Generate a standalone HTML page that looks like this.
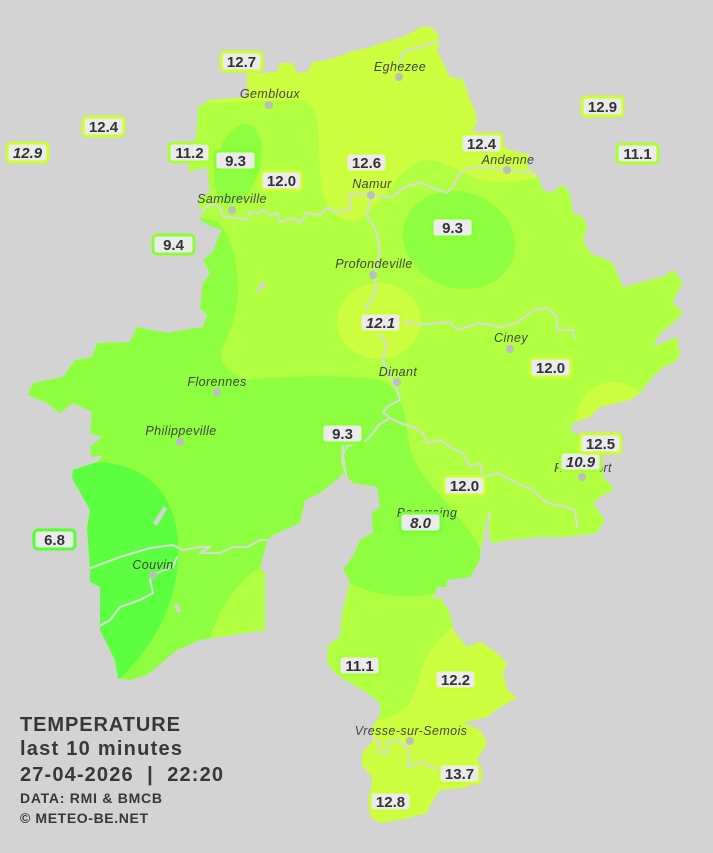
<!DOCTYPE html>
<html><head><meta charset="utf-8"><style>
html,body{margin:0;padding:0;background:#d3d3d3;}
svg{display:block;}
.c{font-family:"Liberation Sans",sans-serif;font-style:italic;font-size:12.5px;fill:#444;text-anchor:middle;letter-spacing:0.4px;}
.v{font-family:"Liberation Sans",sans-serif;font-weight:bold;font-size:15px;fill:#333;text-anchor:middle;}
.vi{font-style:italic;}
.t{font-family:"Liberation Sans",sans-serif;font-weight:bold;fill:#383838;}
</style></head><body>
<svg width="713" height="853" viewBox="0 0 713 853" xmlns="http://www.w3.org/2000/svg">
<defs>
<clipPath id="prov"><polygon id="outl" points="198,107 210,100 237,98 247,97 247,73 263,73 277,72 280,63 293,63 297,73 307,72 313,62 327,60 337,57 350,52 367,48 383,43 403,37 413,32 420,27 430,27 437,32 440,43 437,50 443,63 450,77 463,80 467,90 470,100 475,110 477,123 472,130 490,140 510,150 530,155 527,167 537,175 543,190 550,193 563,185 570,193 573,213 583,217 587,227 583,240 590,253 607,260 613,263 617,273 623,287 650,280 663,277 673,270 683,283 677,293 673,303 683,313 673,323 660,333 653,347 677,337 680,357 673,363 663,367 650,380 640,393 630,400 617,403 600,407 590,417 573,423 570,430 582,437 590,450 603,467 603,477 613,487 613,490 600,497 593,503 600,513 605,520 597,533 567,537 540,537 510,540 493,543 490,540 487,513 483,540 480,553 480,560 470,577 447,580 447,587 437,587 433,600 440,597 450,613 453,630 467,647 480,642 493,650 507,663 503,673 507,690 517,698 500,707 487,717 463,723 480,730 487,743 477,760 483,773 467,787 440,790 433,800 427,813 400,820 380,823 370,817 372,777 362,765 362,753 372,742 372,727 380,715 380,703 367,693 337,675 327,663 328,645 340,637 342,613 347,593 350,580 343,570 355,553 360,540 373,533 372,513 380,507 377,487 353,483 343,473 340,477 320,493 305,500 300,523 273,535 268,540 260,567 265,573 265,630 200,640 193,643 177,650 147,675 130,680 118,678 115,660 100,630 100,587 90,582 90,570 87,528 90,510 72,478 73,470 97,462 103,455 92,457 90,447 102,437 90,433 92,412 73,403 60,413 47,403 28,395 33,383 63,377 75,360 92,357 97,343 130,342 137,327 167,333 203,327 207,315 200,308 203,283 210,273 203,260 213,252 218,238 222,230 213,227 200,220 203,213 198,203 200,198 210,193 207,167 188,172 197,130"/></clipPath>
</defs>
<rect width="713" height="853" fill="#d3d3d3"/>
<g clip-path="url(#prov)">
  <rect width="713" height="853" fill="#b0ff40"/>
  <!-- north yellow -->
  <path d="M180,20 L600,20 L600,176 L545,175 C525,182 500,185 480,180 C460,172 445,160 423,160 C405,165 390,190 377,203 C368,212 360,222 350,221 C330,218 323,200 320,175 L318,123 C316,108 308,100 295,100 L180,104 Z" fill="#ccff40"/>
  <!-- NW green ellipse -->
  <ellipse cx="238" cy="164" rx="22" ry="41" transform="rotate(15 238 164)" fill="#8eff40"/>
  <!-- east green ellipse -->
  <ellipse cx="459" cy="240" rx="57" ry="48" transform="rotate(20 459 240)" fill="#8eff40"/>
  <!-- yellow blob 12.1 -->
  <ellipse cx="379" cy="321" rx="42" ry="38" fill="#ccff40"/>
  <!-- east yellow blob -->
  <circle cx="614" cy="420" r="38" fill="#ccff40"/>
  <!-- big west/south green -->
  <path d="M180,212 L218,222 C230,235 237,255 238,290 C238,315 228,335 221,352 C220,362 226,372 247,380 C280,376 340,374 380,380 C395,384 403,400 407,430 C409,450 414,466 433,487 C450,507 470,528 482,552 L490,575 C470,588 445,592 417,596 C395,597 370,594 350,583 L330,560 L300,720 L0,720 L0,212 Z" fill="#8eff40"/>
  <!-- SW lighter region -->
  <path d="M195,720 L210,640 C215,618 227,596 247,577 C255,570 262,565 280,560 L300,560 L300,720 Z" fill="#b0ff40"/>
  <!-- deep green Couvin -->
  <path d="M60,466 C150,448 182,500 178,560 C175,610 150,650 115,684 L40,700 L40,466 Z" fill="#5cff40"/>
  <!-- south yellow -->
  <path d="M470,610 C455,625 435,640 425,660 C418,680 415,700 405,708 C395,716 385,718 368,724 L350,840 L560,840 L560,600 Z" fill="#ccff40"/>
  <!-- lakes -->
  <g fill="#d3d3d3">
    <path d="M164,506 L167,509 L157,526 L153,523 Z"/>
    <path d="M174,604 L178,603 L181,612 L177,613 Z"/>
    <circle cx="263" cy="285" r="3"/>
    <path d="M257,288 L262,286 L259,292 L256,292 Z"/>
  </g>
  <!-- rivers -->
  <g fill="none" stroke="#dadada" stroke-width="2" stroke-linejoin="round" stroke-linecap="round">
    <polyline points="548,176 525,172 507,170 483,167 470,168 460,173 453,187 447,193 430,187 420,182 403,188 393,197 371,196"/>
    <polyline points="371,196 350,193 350,210 337,212 327,208 320,215 307,213 300,223 293,218 280,222 277,213 270,215 263,210 258,213 250,212 247,220 237,218 230,217 223,217 220,207 212,204 205,208 200,212"/>
    <polyline points="371,196 367,215 376,230 380,252 375,272 376,290 372,300 366,306 375,330 387,343 383,360 390,377 397,390 400,400 388,406 383,412 390,418 380,424 367,440 347,446 343,455 345,470 348,482"/>
    <polyline points="390,418 400,423 413,427 423,433 427,443 440,440 450,447 463,453 470,467 480,463 483,477 497,473 517,483 533,490 547,503 567,507 575,510 577,527"/>
    <polyline points="403,321 420,325 450,322 457,330 480,323 500,327 517,323 533,310 547,308 557,317 557,330 573,330 575,338"/>
    <polyline points="80,572 120,557 150,548 173,545 183,550 200,547 210,547 200,553 220,553 233,547 247,547 260,540 270,540"/>
    <polyline points="177,557 173,567 157,573 150,580 153,593 140,600 120,607 110,620 98,627"/>
    <polyline points="362,740 372,737 380,742 378,752 387,753 388,742 397,740 407,747 410,757 407,767 423,762 430,767 445,770"/>
    <polyline points="445,40 420,47 403,52 400,62"/>
    <polyline points="343,446 342,460 345,470"/>
    <polyline points="490,512 487,525 485,545"/>
  </g>
</g>
<!-- city dots -->
<g fill="#bdbdbd">
  <circle cx="269" cy="105" r="4"/><circle cx="399" cy="77" r="4"/><circle cx="507" cy="170" r="4"/>
  <circle cx="371" cy="195" r="4"/><circle cx="232" cy="210" r="4"/><circle cx="373" cy="275" r="4"/>
  <circle cx="510" cy="349" r="4"/><circle cx="397" cy="382" r="4"/><circle cx="217" cy="392" r="4"/>
  <circle cx="180" cy="442" r="4"/><circle cx="153" cy="575" r="4"/><circle cx="410" cy="741" r="4"/>
  <circle cx="582" cy="477" r="4"/><circle cx="427" cy="524" r="4"/>
</g>
<!-- city names -->
<g class="c">
  <text x="270" y="98">Gembloux</text>
  <text x="400" y="71">Eghezee</text>
  <text x="508" y="164">Andenne</text>
  <text x="372" y="188">Namur</text>
  <text x="232" y="203">Sambreville</text>
  <text x="374" y="268">Profondeville</text>
  <text x="398" y="376">Dinant</text>
  <text x="217" y="386">Florennes</text>
  <text x="181" y="435">Philippeville</text>
  <text x="511" y="342">Ciney</text>
  <text x="153" y="569">Couvin</text>
  <text x="411" y="735">Vresse-sur-Semois</text>
  <text x="583" y="472">Rochefort</text>
  <text x="427" y="517">Beauraing</text>
</g>
<!-- value labels -->
<g stroke-width="3">
  <rect x="221" y="52" width="41" height="19" rx="4" fill="#ebebeb" stroke="#ccff33"/>
  <rect x="83" y="117" width="41" height="19" rx="4" fill="#ebebeb" stroke="#ccff33"/>
  <rect x="7" y="143" width="41" height="19" rx="4" fill="#ebebeb" stroke="#ccff33"/>
  <rect x="169" y="143" width="41" height="19" rx="4" fill="#ebebeb" stroke="#aaff33"/>
  <rect x="215" y="151" width="41" height="19" rx="4" fill="#ebebeb" stroke="#88ff33"/>
  <rect x="261" y="171" width="41" height="19" rx="4" fill="#ebebeb" stroke="#ccff33"/>
  <rect x="346" y="153" width="41" height="19" rx="4" fill="#ebebeb" stroke="#ccff33"/>
  <rect x="461" y="134" width="41" height="19" rx="4" fill="#ebebeb" stroke="#ccff33"/>
  <rect x="582" y="97" width="41" height="19" rx="4" fill="#ebebeb" stroke="#ccff33"/>
  <rect x="617" y="144" width="41" height="19" rx="4" fill="#ebebeb" stroke="#aaff33"/>
  <rect x="432" y="218" width="41" height="19" rx="4" fill="#ebebeb" stroke="#88ff33"/>
  <rect x="153" y="235" width="41" height="19" rx="4" fill="#ebebeb" stroke="#88ff33"/>
  <rect x="360" y="313" width="41" height="19" rx="4" fill="#ebebeb" stroke="#ccff33"/>
  <rect x="530" y="358" width="41" height="19" rx="4" fill="#ebebeb" stroke="#ccff33"/>
  <rect x="322" y="424" width="41" height="19" rx="4" fill="#ebebeb" stroke="#88ff33"/>
  <rect x="560" y="452" width="41" height="19" rx="4" fill="#ebebeb" stroke="#aaff33"/>
  <rect x="580" y="434" width="41" height="19" rx="4" fill="#ebebeb" stroke="#ccff33"/>
  <rect x="444" y="476" width="41" height="19" rx="4" fill="#ebebeb" stroke="#ccff33"/>
  <rect x="400" y="513" width="41" height="19" rx="4" fill="#ebebeb" stroke="#77ff33"/>
  <rect x="34" y="530" width="41" height="19" rx="4" fill="#ebebeb" stroke="#55ff33"/>
  <rect x="339" y="656" width="41" height="19" rx="4" fill="#ebebeb" stroke="#aaff33"/>
  <rect x="435" y="670" width="41" height="19" rx="4" fill="#ebebeb" stroke="#ccff33"/>
  <rect x="439" y="764" width="41" height="19" rx="4" fill="#ebebeb" stroke="#ccff33"/>
  <rect x="370" y="792" width="41" height="19" rx="4" fill="#ebebeb" stroke="#ccff33"/>
</g>
<g class="v">
  <text x="241.5" y="67">12.7</text>
  <text x="103.5" y="132">12.4</text>
  <text x="27.5" y="158" class="v vi">12.9</text>
  <text x="189.5" y="158">11.2</text>
  <text x="235.5" y="166">9.3</text>
  <text x="281.5" y="186">12.0</text>
  <text x="366.5" y="168">12.6</text>
  <text x="481.5" y="149">12.4</text>
  <text x="602.5" y="112">12.9</text>
  <text x="637.5" y="159">11.1</text>
  <text x="452.5" y="233">9.3</text>
  <text x="173.5" y="250">9.4</text>
  <text x="380.5" y="328" class="v vi">12.1</text>
  <text x="550.5" y="373">12.0</text>
  <text x="342.5" y="439">9.3</text>
</g>
<g stroke-width="3">
</g>
<g class="v">
  <text x="580.5" y="467" class="v vi">10.9</text>
</g>
<rect x="580" y="434" width="41" height="19" rx="4" fill="#ebebeb" stroke="#ccff33" stroke-width="3"/>
<g class="v">
  <text x="600.5" y="449">12.5</text>
  <text x="464.5" y="491">12.0</text>
  <text x="420.5" y="528" class="v vi">8.0</text>
  <text x="54.5" y="545">6.8</text>
  <text x="359.5" y="671">11.1</text>
  <text x="455.5" y="685">12.2</text>
  <text x="459.5" y="779">13.7</text>
  <text x="390.5" y="807">12.8</text>
</g>
<!-- title block -->
<text class="t" x="20" y="731" font-size="20" textLength="160" lengthAdjust="spacing">TEMPERATURE</text>
<text class="t" x="20" y="755" font-size="20" textLength="162" lengthAdjust="spacing">last 10 minutes</text>
<text class="t" x="20" y="781" font-size="20" textLength="203" lengthAdjust="spacing" xml:space="preserve">27-04-2026  |  22:20</text>
<text class="t" x="20" y="803" font-size="14" textLength="142" lengthAdjust="spacing">DATA: RMI &amp; BMCB</text>
<text class="t" x="20" y="823" font-size="14" textLength="128" lengthAdjust="spacing">© METEO-BE.NET</text>
</svg>
</body></html>
